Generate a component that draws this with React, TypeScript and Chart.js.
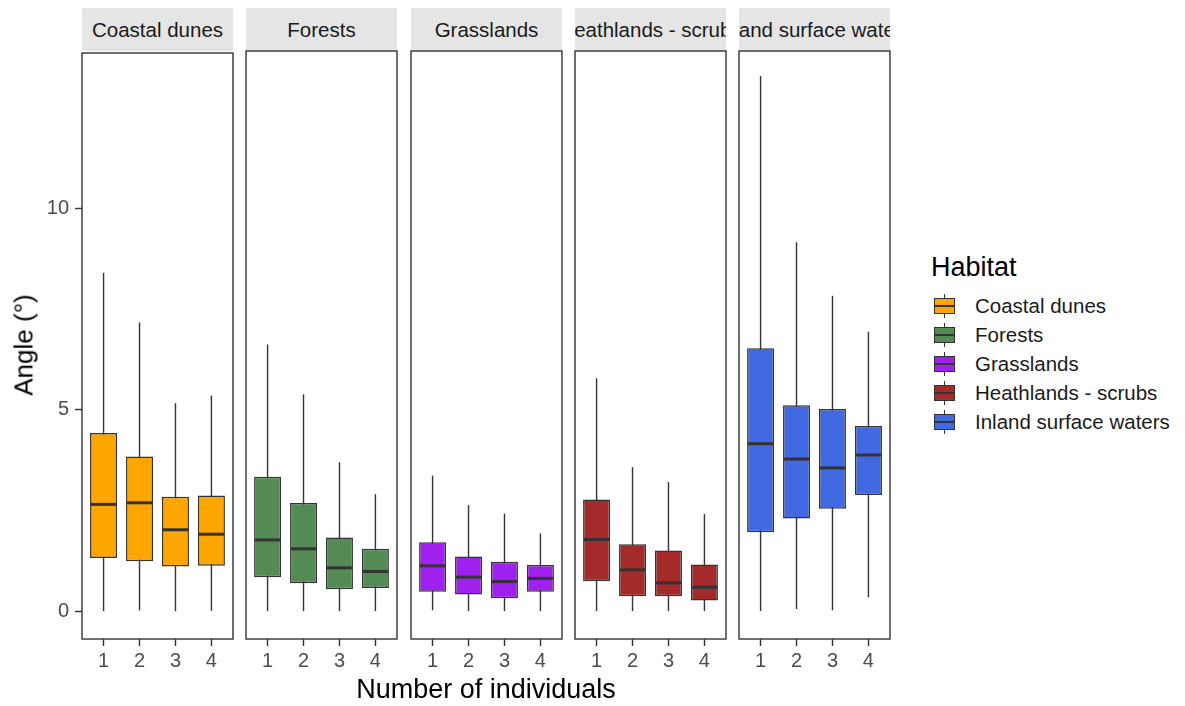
import React, { useEffect, useRef } from 'react';
import { Chart, registerables } from 'chart.js';

Chart.register(...registerables);

const FONT = '"Liberation Sans", Arial, Helvetica, sans-serif';

const nIndividuals = [1, 2, 3, 4];
const habitats = ['Coastal dunes', 'Forests', 'Grasslands', 'Heathlands - scrubs', 'Inland surface waters'];
const habitatColors = ['#FFA500', '#548B54', '#A020F0', '#A52A2A', '#4169E1'];
const yTicks = [0, 5, 10];

// [lower whisker, Q1, median, Q3, upper whisker] per number of individuals
const coastalDunes = [
  [0.0, 1.32, 2.65, 4.42, 8.4],
  [0.02, 1.24, 2.69, 3.84, 7.16],
  [0.0, 1.11, 2.02, 2.84, 5.16],
  [0.01, 1.13, 1.91, 2.87, 5.35],
];
const forests = [
  [0.0, 0.84, 1.76, 3.32, 6.59],
  [0.0, 0.69, 1.54, 2.67, 5.36],
  [0.0, 0.54, 1.07, 1.82, 3.68],
  [0.0, 0.57, 0.98, 1.54, 2.89],
];
const grasslands = [
  [0.02, 0.48, 1.12, 1.7, 3.35],
  [0.0, 0.41, 0.84, 1.35, 2.62],
  [0.0, 0.32, 0.73, 1.22, 2.41],
  [0.0, 0.48, 0.81, 1.14, 1.92],
];
const heathlands = [
  [0.0, 0.74, 1.77, 2.76, 5.76],
  [0.0, 0.37, 1.02, 1.65, 3.56],
  [0.0, 0.37, 0.7, 1.5, 3.19],
  [0.0, 0.26, 0.59, 1.15, 2.4],
];
const inlandWaters = [
  [0.0, 1.95, 4.14, 6.5, 13.23],
  [0.05, 2.29, 3.76, 5.09, 9.12],
  [0.02, 2.53, 3.54, 5.0, 7.8],
  [0.34, 2.87, 3.86, 4.58, 6.91],
];
const habitatStats = [coastalDunes, forests, grasslands, heathlands, inlandWaters];

// layout
const PANEL_LEFTS = [82, 246, 411, 575, 739];
const PANEL_W = 151;
const PANEL_TOP = 51;
const PANEL_H = 588;
const PAD_TOP = 16;
const PAD_SIDE = 10;
const X_AXIS_H = 60;
const Y_AXIS_W = 82;

const boxPlugin = (stats: number[][]) => ({
  id: 'boxWhiskers',
  beforeDatasetsDraw(chart: any) {
    const { ctx } = chart;
    const x = chart.scales.x;
    const y = chart.scales.y;
    ctx.save();
    ctx.strokeStyle = '#333333';
    ctx.lineWidth = 1.4;
    stats.forEach((s, k) => {
      const px = x.getPixelForValue(nIndividuals[k]);
      ctx.beginPath();
      ctx.moveTo(px, y.getPixelForValue(s[0]));
      ctx.lineTo(px, y.getPixelForValue(s[4]));
      ctx.stroke();
    });
    ctx.restore();
  },
  afterDatasetsDraw(chart: any) {
    const { ctx, chartArea } = chart;
    const y = chart.scales.y;
    const meta = chart.getDatasetMeta(0);
    ctx.save();
    ctx.strokeStyle = '#333333';
    ctx.lineWidth = 3;
    meta.data.forEach((el: any, k: number) => {
      const { x: bx, width } = el.getProps(['x', 'width'], true);
      const py = y.getPixelForValue(stats[k][2]);
      ctx.beginPath();
      ctx.moveTo(bx - width / 2 + 0.7, py);
      ctx.lineTo(bx + width / 2 - 0.7, py);
      ctx.stroke();
    });
    ctx.lineWidth = 1.4;
    ctx.strokeRect(chartArea.left, chartArea.top, chartArea.right - chartArea.left, chartArea.bottom - chartArea.top);
    ctx.restore();
  },
});

function Panel({ index }: { index: number }) {
  const ref = useRef<HTMLCanvasElement | null>(null);
  const isFirst = index === 0;
  const padL = isFirst ? 0 : PAD_SIDE;
  const leftExtra = isFirst ? Y_AXIS_W : PAD_SIDE;
  const width = leftExtra + PANEL_W + PAD_SIDE;
  const height = PAD_TOP + PANEL_H + X_AXIS_H;
  const left = PANEL_LEFTS[index] - leftExtra;
  const top = PANEL_TOP - PAD_TOP;

  useEffect(() => {
    if (!ref.current) return;
    const stats = habitatStats[index];
    const chart = new Chart(ref.current, {
      type: 'bar',
      data: {
        datasets: [
          {
            label: habitats[index],
            data: stats.map((s, k) => ({ x: nIndividuals[k], y: [s[1], s[3]] })) as any,
            backgroundColor: habitatColors[index],
            borderColor: '#333333',
            borderWidth: 1.5,
            borderSkipped: false,
            barPercentage: 0.75,
            categoryPercentage: 1,
          },
        ],
      },
      options: {
        responsive: false,
        maintainAspectRatio: false,
        animation: false,
        layout: { padding: { left: padL, right: PAD_SIDE, top: PAD_TOP, bottom: 0 } },
        plugins: { legend: { display: false }, tooltip: { enabled: false } },
        scales: {
          x: {
            type: 'linear',
            min: 0.4,
            max: 4.6,
            offset: false,
            afterBuildTicks: (s: any) => {
              s.ticks = nIndividuals.map((v) => ({ value: v }));
            },
            afterFit: (s: any) => {
              s.height = X_AXIS_H;
            },
            grid: {
              offset: false,
              display: true,
              drawOnChartArea: false,
              drawTicks: true,
              tickLength: 7,
              color: '#333333',
              tickWidth: 1.4,
            },
            border: { display: false },
            ticks: {
              autoSkip: false,
              maxRotation: 0,
              padding: 3,
              color: '#4D4D4D',
              font: { family: FONT, size: 20 },
              callback: (v: any) => String(v),
            },
          },
          y: {
            display: isFirst,
            min: -0.69,
            max: 13.85,
            afterBuildTicks: (s: any) => {
              s.ticks = yTicks.map((v) => ({ value: v }));
            },
            afterFit: (s: any) => {
              s.width = isFirst ? Y_AXIS_W : 0;
            },
            grid: {
              display: true,
              drawOnChartArea: false,
              drawTicks: true,
              tickLength: 7,
              color: '#333333',
              tickWidth: 1.4,
            },
            border: { display: false },
            ticks: {
              padding: 6,
              color: '#4D4D4D',
              font: { family: FONT, size: 20 },
              callback: (v: any) => String(v),
            },
          },
        },
      } as any,
      plugins: [boxPlugin(stats)],
    });
    return () => chart.destroy();
  }, [index]);

  return (
    <canvas
      ref={ref}
      width={width}
      height={height}
      style={{ position: 'absolute', left, top, width, height }}
    />
  );
}

function LegendKey({ color }: { color: string }) {
  return (
    <div style={{ position: 'relative', width: 21, height: 26 }}>
      <div style={{ position: 'absolute', left: 9.8, top: 1, width: 1.4, height: 24, background: '#333333' }} />
      <div
        style={{
          position: 'absolute',
          left: 0,
          top: 5,
          width: 21,
          height: 16,
          boxSizing: 'border-box',
          background: color,
          border: '1.4px solid #333333',
        }}
      />
      <div style={{ position: 'absolute', left: 1, top: 12, width: 19, height: 2, background: '#333333' }} />
    </div>
  );
}

export default function App() {
  return (
    <div
      style={{
        position: 'fixed',
        left: 0,
        top: 0,
        width: 1185,
        height: 706,
        background: '#ffffff',
        fontFamily: FONT,
        overflow: 'hidden',
      }}
    >
      {habitats.map((h, i) => (
        <div
          key={'strip' + i}
          style={{
            position: 'absolute',
            left: PANEL_LEFTS[i],
            top: 8,
            width: PANEL_W,
            height: 43,
            background: '#E5E5E5',
            overflow: 'hidden',
            display: 'flex',
            justifyContent: 'center',
            alignItems: 'center',
            whiteSpace: 'nowrap',
            fontSize: 20.5,
            color: '#1A1A1A',
          }}
        >
          <span>{h}</span>
        </div>
      ))}
      {habitats.map((h, i) => (
        <Panel key={'panel' + i} index={i} />
      ))}
      <div
        style={{
          position: 'absolute',
          left: 24,
          top: 345,
          transform: 'translate(-50%, -50%) rotate(-90deg)',
          fontSize: 26,
          color: '#000000',
          whiteSpace: 'nowrap',
        }}
      >
        Angle (°)
      </div>
      <div
        style={{
          position: 'absolute',
          left: 486,
          top: 689,
          transform: 'translate(-50%, -50%)',
          fontSize: 27,
          color: '#000000',
          whiteSpace: 'nowrap',
        }}
      >
        Number of individuals
      </div>
      <div style={{ position: 'absolute', left: 931, top: 251, fontSize: 27, color: '#000000', lineHeight: '32px' }}>
        Habitat
      </div>
      {habitats.map((h, i) => (
        <div
          key={'leg' + i}
          style={{
            position: 'absolute',
            left: 934,
            top: 293 + i * 29,
            height: 26,
            display: 'flex',
            alignItems: 'center',
          }}
        >
          <LegendKey color={habitatColors[i]} />
          <span style={{ marginLeft: 20, fontSize: 20.5, color: '#1A1A1A', whiteSpace: 'nowrap' }}>{h}</span>
        </div>
      ))}
    </div>
  );
}
